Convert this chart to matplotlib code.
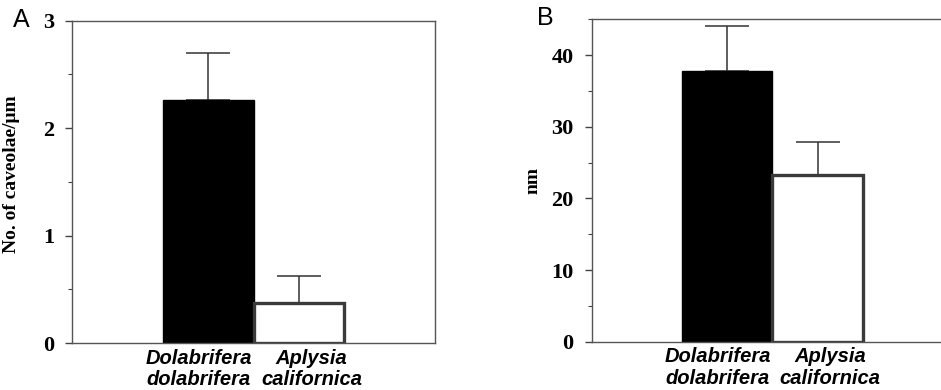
import matplotlib
matplotlib.use("Agg")
import matplotlib.pyplot as plt
from matplotlib.ticker import MultipleLocator

categories = ["Dolabrifera\ndolabrifera", "Aplysia\ncalifornica"]
caveolae_mean = [2.26, 0.37]
caveolae_err = [0.44, 0.25]
diam_mean = [37.8, 23.2]
diam_err = [6.3, 4.7]
colors = ["black", "white"]
edgecolors = ["black", "#3a3a3a"]

fig = plt.figure(figsize=(9.41, 3.9), dpi=100)

axA = fig.add_axes([0.0765, 0.1205, 0.3858, 0.8269])
axB = fig.add_axes([0.6288, 0.1238, 0.384, 0.827])

label_shift_pt = [-7, 9]

def draw(ax, means, errs, ylim, major, minor, ylabel, letter, lx, ly):
    x = list(range(len(means)))
    ax.bar(x, means, width=1.0, color=colors, edgecolor=edgecolors,
           linewidth=[1.0, 2.4], zorder=2)
    ax.errorbar(x, means, yerr=[[0] * len(errs), errs], fmt="none",
                ecolor="#333333", elinewidth=1.1, capsize=16, capthick=1.1, zorder=1)
    ax.set_xlim(-1.5, 2.5)
    ax.set_ylim(*ylim)
    ax.yaxis.set_major_locator(MultipleLocator(major))
    ax.yaxis.set_minor_locator(MultipleLocator(minor))
    ax.set_xticks(x)
    ax.set_xticklabels([""] * len(x))
    for xi, cat, dx in zip(x, categories, label_shift_pt):
        ax.annotate(cat, xy=(xi, 0), xycoords=("data", "axes fraction"),
                    xytext=(dx, -4), textcoords="offset points",
                    ha="center", va="top", multialignment="center",
                    fontfamily="Liberation Sans", fontweight="bold",
                    fontstyle="italic", fontsize=14.5, linespacing=1.15)
    ax.tick_params(axis="x", length=0)
    ax.tick_params(axis="y", which="major", length=5, width=1, color="#444444", pad=8)
    ax.tick_params(axis="y", which="minor", length=3, width=0.8, color="#444444")
    for lab in ax.get_yticklabels():
        lab.set_fontfamily("Liberation Serif")
        lab.set_fontweight("bold")
        lab.set_fontsize(16)
    for s in ax.spines.values():
        s.set_color("#555555")
        s.set_linewidth(1.0)
    ax.set_ylabel(ylabel, fontfamily="Liberation Serif", fontweight="bold", fontsize=14)
    fig.text(lx, ly, letter, fontfamily="Liberation Sans", fontsize=18,
             ha="center", va="center")

draw(axA, caveolae_mean, caveolae_err, (0, 3), 1, 0.5, "No. of caveolae/\u03bcm", "A",
     21 / 941, 1 - 20 / 390)
draw(axB, diam_mean, diam_err, (0, 45), 10, 5, "nm", "B",
     545 / 941, 1 - 18 / 390)
axA.yaxis.set_label_coords(-0.143, 0.525)
axB.yaxis.set_label_coords(-0.138, 0.5)

fig.savefig("out.png", dpi=100)
